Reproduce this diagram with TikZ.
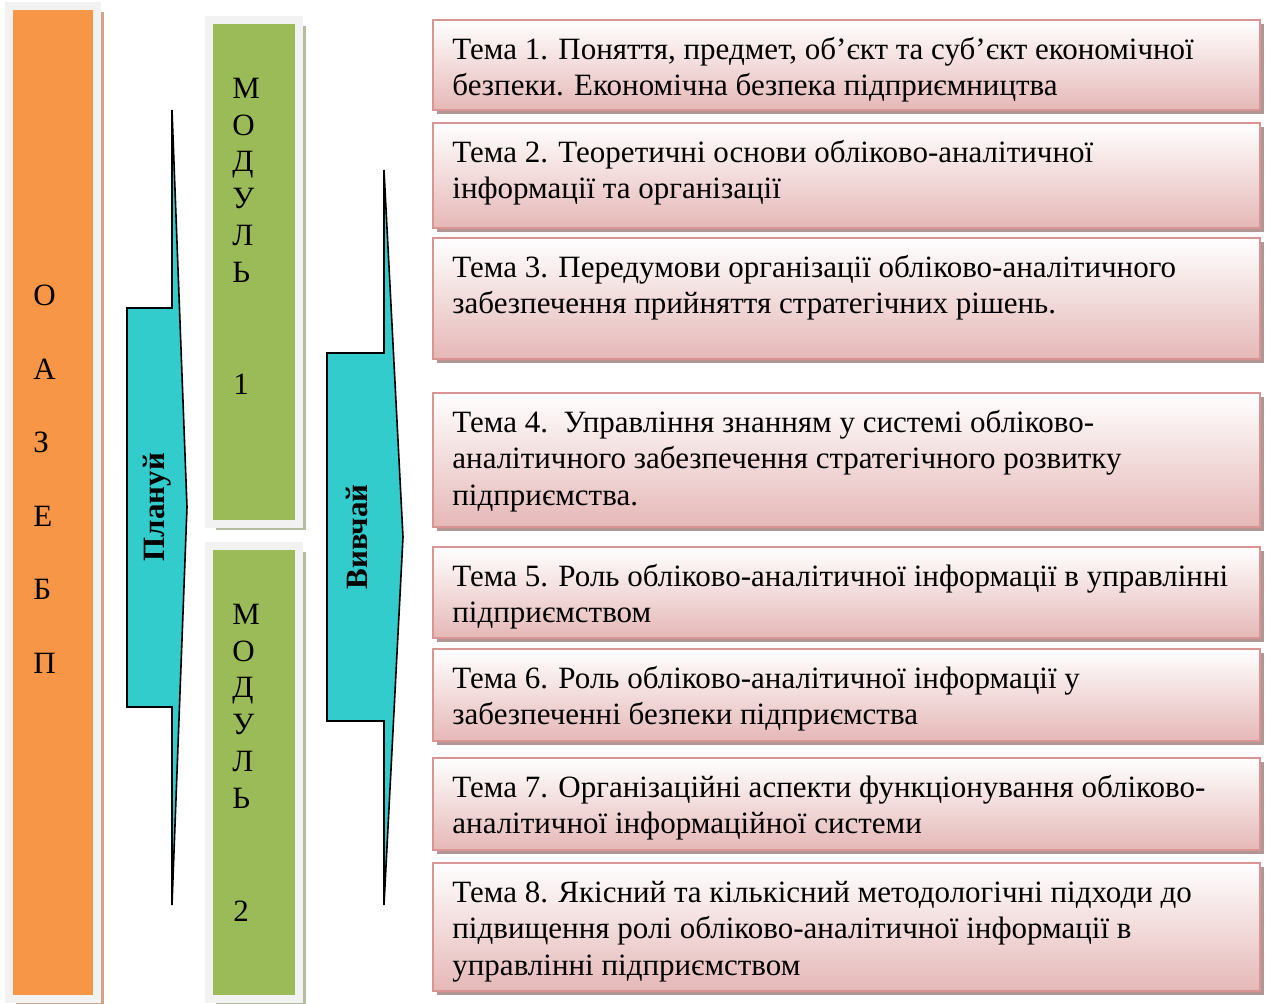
\documentclass[tikz,border=0pt]{standalone}
\usepackage{fontspec}
\setmainfont{Liberation Serif}
\usetikzlibrary{shadows}
\definecolor{oabp}{RGB}{247,150,70}
\definecolor{modgreen}{RGB}{155,187,89}
\definecolor{framegray}{RGB}{242,242,242}
\definecolor{arrowcyan}{RGB}{51,204,204}
\definecolor{topicline}{RGB}{217,149,148}
\definecolor{topicpink}{RGB}{229,184,183}
\definecolor{topicshadow}{RGB}{178,150,150}
\definecolor{barshadow}{RGB}{205,165,135}
\definecolor{modshadow}{RGB}{180,188,160}
\newcommand{\tfont}{\fontsize{15.5pt}{18.3pt}\selectfont}

\begin{document}
\begin{tikzpicture}[x=0.5pt,y=-0.5pt,font=\tfont,
panel/.style={draw=framegray,line width=4pt,inner sep=0pt},
topic/.style={anchor=north west,draw=topicline,line width=1pt,top color=white,bottom color=topicpink,minimum width=413.5pt,inner sep=0pt,
  drop shadow={shadow xshift=2pt,shadow yshift=-2pt,fill=topicshadow,opacity=1}},
topictext/.style={anchor=north west,inner sep=0pt,align=left},
letter/.style={anchor=base west,inner sep=0pt},
block/.style={fill=arrowcyan,draw=black,line width=0.8pt,line join=miter}]
\useasboundingbox (0,0) rectangle (1267,1003);

% left bar and modules
\node[panel,fill=oabp,minimum width=44pt,minimum height=496.5pt,drop shadow={shadow xshift=3.5pt,shadow yshift=-3pt,fill=barshadow,opacity=1}] (oabp) at (53,502.5) {};
\node[panel,fill=modgreen,minimum width=45pt,minimum height=252pt,drop shadow={shadow xshift=3.5pt,shadow yshift=-3pt,fill=modshadow,opacity=1}] (mod1) at (254,272) {};
\node[panel,fill=modgreen,minimum width=45pt,minimum height=226.5pt,drop shadow={shadow xshift=3.5pt,shadow yshift=-3pt,fill=modshadow,opacity=1}] (mod2) at (254,772.5) {};

\foreach \ch [count=\i] in {О,А,З,Е,Б,П}
  \node[letter] (oabp\i) at (33,{305.5+73.6*(\i-1)}) {\ch};
\foreach \ch [count=\i] in {М,О,Д,У,Л,Ь}{
  \node[letter] (moda\i) at (232,{98.5+36.7*(\i-1)}) {\ch};
  \node[letter] (modb\i) at (232,{624.5+36.7*(\i-1)}) {\ch};
}
\node[letter] (moda9) at (233,394.5) {1};
\node[letter] (modb9) at (233,921) {2};

% arrows
\filldraw[block] (127,308) -- (172,308) -- (172,110) -- (187,507) -- (172,905) -- (172,707) -- (127,707) -- cycle;
\filldraw[block] (327,353) -- (384,353) -- (384,170) -- (403,537) -- (384,905) -- (384,721) -- (327,721) -- cycle;
\node[rotate=90,font=\tfont\bfseries] (plan) at (157,507) {Плануй};
\node[rotate=90,font=\tfont\bfseries] (study) at (357,537) {Вивчай};

% topics
\node[topic,minimum height=45pt] (t1) at (432,19) {};
\node[topictext] (t1text) at ([shift={(20,14)}]t1.north west) {\strut Тема 1. Поняття, предмет, об’єкт та суб’єкт економічної\\безпеки. Економічна безпека підприємництва};
\node[topic,minimum height=52.5pt] (t2) at (432,122) {};
\node[topictext] (t2text) at ([shift={(20,14)}]t2.north west) {\strut Тема 2. Теоретичні основи обліково-аналітичної\\інформації та організації};
\node[topic,minimum height=60.5pt] (t3) at (432,237) {};
\node[topictext] (t3text) at ([shift={(20,14)}]t3.north west) {\strut Тема 3. Передумови організації обліково-аналітичного\\забезпечення прийняття стратегічних рішень.};
\node[topic,minimum height=67pt] (t4) at (432,392) {};
\node[topictext] (t4text) at ([shift={(20,14)}]t4.north west) {\strut Тема 4.\ \ Управління знанням у системі обліково-\\аналітичного забезпечення стратегічного розвитку\\підприємства.};
\node[topic,minimum height=45.5pt] (t5) at (432,546) {};
\node[topictext] (t5text) at ([shift={(20,14)}]t5.north west) {\strut Тема 5. Роль обліково-аналітичної інформації в управлінні\\підприємством};
\node[topic,minimum height=46pt] (t6) at (432,648) {};
\node[topictext] (t6text) at ([shift={(20,14)}]t6.north west) {\strut Тема 6. Роль обліково-аналітичної інформації у\\забезпеченні безпеки підприємства};
\node[topic,minimum height=46pt] (t7) at (432,757) {};
\node[topictext] (t7text) at ([shift={(20,14)}]t7.north west) {\strut Тема 7. Організаційні аспекти функціонування обліково-\\аналітичної інформаційної системи};
\node[topic,minimum height=64pt] (t8) at (432,862) {};
\node[topictext] (t8text) at ([shift={(20,14)}]t8.north west) {\strut Тема 8. Якісний та кількісний методологічні підходи до\\підвищення ролі обліково-аналітичної інформації в\\управлінні підприємством};
\end{tikzpicture}
\end{document}
